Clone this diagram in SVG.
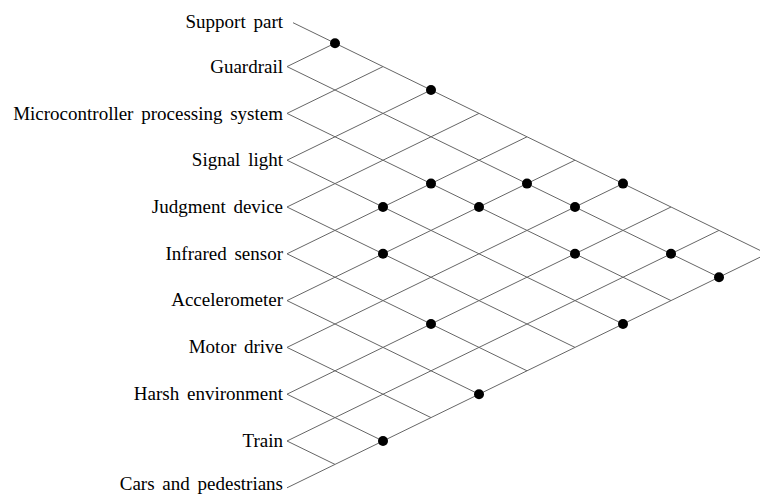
<svg xmlns="http://www.w3.org/2000/svg" width="760" height="495" viewBox="0 0 760 495">
<style>
  .lbl { font-family: "Liberation Serif", "Times New Roman", serif; font-size: 19px; fill: #000; text-anchor: end; word-spacing: 3px; }
  .grid line { stroke: #666; stroke-width: 1; fill: none; }
  .dot { fill: #000; }
</style>
<rect width="760" height="495" fill="#fff"/>
<g id="connectors" class="grid">
  <line x1="293" y1="22.7" x2="767" y2="253.8"/>
  <line x1="287" y1="66.6" x2="719" y2="277.2"/>
  <line x1="287" y1="113.4" x2="671" y2="300.6"/>
  <line x1="287" y1="160.2" x2="623" y2="324.0"/>
  <line x1="287" y1="207.0" x2="575" y2="347.4"/>
  <line x1="287" y1="253.8" x2="527" y2="370.8"/>
  <line x1="287" y1="300.6" x2="479" y2="394.2"/>
  <line x1="287" y1="347.4" x2="431" y2="417.6"/>
  <line x1="287" y1="394.2" x2="383" y2="441.0"/>
  <line x1="287" y1="441.0" x2="335" y2="464.4"/>
  <line x1="287" y1="66.6" x2="335" y2="43.2"/>
  <line x1="287" y1="113.4" x2="383" y2="66.6"/>
  <line x1="287" y1="160.2" x2="431" y2="90.0"/>
  <line x1="287" y1="207.0" x2="479" y2="113.4"/>
  <line x1="287" y1="253.8" x2="527" y2="136.8"/>
  <line x1="287" y1="300.6" x2="575" y2="160.2"/>
  <line x1="287" y1="347.4" x2="623" y2="183.6"/>
  <line x1="287" y1="394.2" x2="671" y2="207.0"/>
  <line x1="287" y1="441.0" x2="719" y2="230.4"/>
  <line x1="287" y1="487.8" x2="767" y2="253.8"/>
</g>
<g id="n0"><text class="lbl" x="283" y="28">Support part</text></g>
<g id="n1"><text class="lbl" x="283" y="73">Guardrail</text></g>
<g id="n2"><text class="lbl" x="283" y="120">Microcontroller processing system</text></g>
<g id="n3"><text class="lbl" x="283" y="166">Signal light</text></g>
<g id="n4"><text class="lbl" x="283" y="213">Judgment device</text></g>
<g id="n5"><text class="lbl" x="283" y="260">Infrared sensor</text></g>
<g id="n6"><text class="lbl" x="283" y="306">Accelerometer</text></g>
<g id="n7"><text class="lbl" x="283" y="353">Motor drive</text></g>
<g id="n8"><text class="lbl" x="283" y="400">Harsh environment</text></g>
<g id="n9"><text class="lbl" x="283" y="447">Train</text></g>
<g id="n10"><text class="lbl" x="283" y="490">Cars and pedestrians</text></g>
<g id="marks">
  <circle class="dot" cx="335" cy="43.2" r="5"/>
  <circle class="dot" cx="431" cy="90.0" r="5"/>
  <circle class="dot" cx="431" cy="183.6" r="5"/>
  <circle class="dot" cx="527" cy="183.6" r="5"/>
  <circle class="dot" cx="623" cy="183.6" r="5"/>
  <circle class="dot" cx="383" cy="207.0" r="5"/>
  <circle class="dot" cx="479" cy="207.0" r="5"/>
  <circle class="dot" cx="575" cy="207.0" r="5"/>
  <circle class="dot" cx="383" cy="253.8" r="5"/>
  <circle class="dot" cx="575" cy="253.8" r="5"/>
  <circle class="dot" cx="671" cy="253.8" r="5"/>
  <circle class="dot" cx="719" cy="277.2" r="5"/>
  <circle class="dot" cx="431" cy="324.0" r="5"/>
  <circle class="dot" cx="623" cy="324.0" r="5"/>
  <circle class="dot" cx="479" cy="394.2" r="5"/>
  <circle class="dot" cx="383" cy="441.0" r="5"/>
</g>
</svg>
